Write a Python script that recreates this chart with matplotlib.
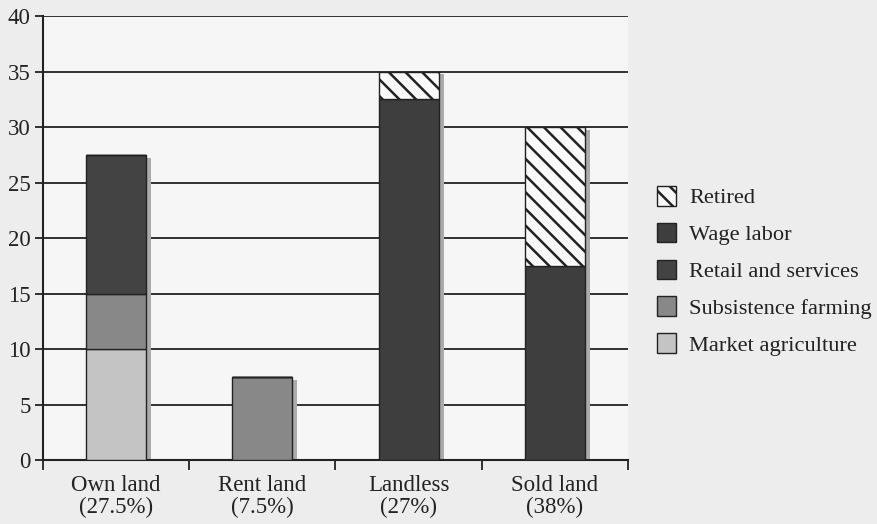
import matplotlib
matplotlib.use("Agg")
import matplotlib.pyplot as plt
import numpy as np
from matplotlib.patches import Patch

categories = ["Own land\n(27.5%)", "Rent land\n(7.5%)", "Landless\n(27%)", "Sold land\n(38%)"]
market_agriculture = [10, 0, 0, 0]
subsistence_farming = [5, 7.5, 0, 0]
retail_services = [12.5, 0, 0, 0]
wage_labor = [0, 0, 32.5, 17.5]
retired = [0, 0, 2.5, 12.5]
yticks = [0, 5, 10, 15, 20, 25, 30, 35, 40]

series = [
    ("Market agriculture", market_agriculture, "#c4c4c4", None),
    ("Subsistence farming", subsistence_farming, "#888888", None),
    ("Retail and services", retail_services, "#434343", None),
    ("Wage labor", wage_labor, "#3e3e3e", None),
    ("Retired", retired, "#fafafa", "\\\\"),
]

plt.rcParams['font.family'] = ['Liberation Serif', 'DejaVu Serif']
plt.rcParams['hatch.linewidth'] = 1.8

fig = plt.figure(figsize=(8.77, 5.24), dpi=100, facecolor="#ededed")
ax = fig.add_axes([0.049, 0.122, 0.667, 0.847])
ax.set_facecolor("#f6f6f6")

x = np.arange(len(categories))
width = 0.41
totals = np.sum([s[1] for s in series], axis=0)

# shadow
ax.bar(x + 0.035, totals - 0.25, width=width, bottom=0, color="#ababab", zorder=2, linewidth=0)

bottom = np.zeros(len(categories))
for name, vals, col, hatch in series:
    vals = np.array(vals, dtype=float)
    ax.bar(x, vals, width=width, bottom=bottom, color=col, edgecolor="#222222",
           linewidth=1.0, hatch=hatch, zorder=3)
    bottom += vals

ax.set_xlim(-0.5, len(categories) - 0.5)
ax.set_ylim(0, 40)
ax.set_yticks(yticks)
ax.yaxis.grid(True, color="#222222", linewidth=1.3, zorder=1)
ax.set_axisbelow(True)

ax.set_xticks(x)
ax.set_xticklabels(categories, fontsize=16.5, color="#222222", linespacing=1.05)
ax.set_xticks(np.arange(len(categories) + 1) - 0.5, minor=True)
ax.tick_params(axis="x", which="major", length=0, pad=11)
ax.tick_params(axis="x", which="minor", length=7, width=1.3, color="#222222", direction="out")
ax.tick_params(axis="y", length=6, width=1.3, color="#222222", labelsize=16.5, labelcolor="#222222", pad=3)

for s in ["top", "right"]:
    ax.spines[s].set_visible(False)
for s in ["left", "bottom"]:
    ax.spines[s].set_linewidth(1.5)
    ax.spines[s].set_color("#222222")

handles = [Patch(facecolor=col, edgecolor="#222222", hatch=hatch, label=name)
           for name, vals, col, hatch in series][::-1]
leg = fig.legend(handles=handles, loc="upper left", bbox_to_anchor=(0.749, 0.645),
                 frameon=False, fontsize=16.1, handlelength=0.87, handleheight=0.97,
                 labelspacing=0.64, handletextpad=0.58, borderaxespad=0, borderpad=0)
for t in leg.get_texts():
    t.set_color("#222222")

fig.savefig("out.png", dpi=100, facecolor=fig.get_facecolor())
